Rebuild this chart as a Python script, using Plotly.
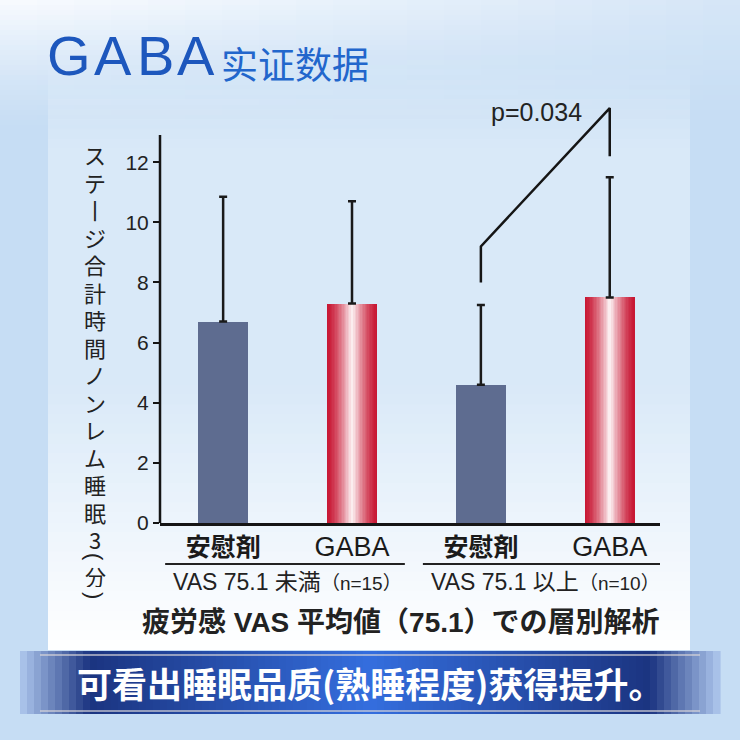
import plotly.graph_objects as go

# ---------------- data ----------------
categories = ["安慰剤", "GABA", "安慰剤", "GABA"]
bar_values = [6.7, 7.3, 4.6, 7.5]
bar_errors = [4.15, 3.4, 2.65, 4.0]
is_gaba = [False, True, False, True]
group_labels = ["VAS 75.1 未満", "VAS 75.1 以上"]
group_n = ["（n=15）", "（n=10）"]
group_members = [[0, 1], [2, 3]]
y_ticks = [0, 2, 4, 6, 8, 10, 12]
sig_x = [2, 2, 3, 3]
sig_y = [8.0, 9.2, 13.8, 12.2]
p_text = "p=0.034"
y_title = "ステ丨ジ合計時間ノンレム睡眠3"
y_unit = ["(", "分", ")"]
subtitle = "疲労感 VAS 平均値（75.1）での層別解析"
title_en = "GABA"
title_cn = "实证数据"
banner = "可看出睡眠品质(熟睡程度)获得提升。"

W, H = 740, 740
L, R, T, B = 160, 80, 87, 217
PW, PH = W - L - R, H - T - B
XR = [-0.49, 3.39]
YR = [0, 14.5]


def px_x(px):
    return (px - L) / PW


def px_y(py):
    return (H - B - py) / PH


def mix(c1, c2, t):
    t = max(0.0, min(1.0, t))
    return "rgb(%d,%d,%d)" % tuple(round(a + (b - a) * t) for a, b in zip(c1, c2))


fig = go.Figure()
shapes = []


def rect(x0, x1, y0, y1, color):
    shapes.append(dict(type="rect", xref="paper", yref="paper", layer="below",
                       x0=px_x(x0), x1=px_x(x1), y0=px_y(y1), y1=px_y(y0),
                       fillcolor=color, line=dict(width=0)))


# ---------------- background ----------------
outside = (198, 221, 244)
mid_c = (217, 233, 248)
bot_c = (255, 255, 255)

# panel with vertical gradient (blends into background at the top)
n_band = 60
for i in range(n_band):
    y0 = 60 + 590 * i / n_band
    y1 = min(650, 60 + 590 * (i + 1) / n_band + 1)
    f = ((y0 + y1) / 2 - 60) / 590
    if f < 0.15:
        c = mix(outside, mid_c, f / 0.15)
    elif f < 0.55:
        c = mix(mid_c, mid_c, 0)
    else:
        c = mix(mid_c, bot_c, (f - 0.55) / 0.45)
    rect(48, 690, y0, y1, c)

# top whitish glow (translucent white, fades downward and to the right)
for i in range(26):
    y0 = i * 5
    f = i / 26
    for j in range(20):
        x0 = j * 37
        g = j / 20
        a = (1 - f) ** 1.3 * (1 - 0.7 * g) * 0.9
        rect(x0, x0 + 37, y0, y0 + 5, "rgba(252,253,255,%.3f)" % a)

# bottom banner: smooth horizontal gradient (faded ends, navy, brighter centre)
fade = (175, 200, 238)
navy = (27, 52, 128)
bright = (52, 110, 222)
step = 7
x = 20
while x < 720:
    xc = x + step / 2
    d = min(xc - 20, 720 - xc)
    if d < 70:
        c = mix(fade, navy, d / 70)
    else:
        c = mix(navy, bright, (d - 70) / 280)
    rect(x, x + step + 0.6, 651, 714, c)
    x += step
for yy in (655, 711):
    shapes.append(dict(type="line", xref="paper", yref="paper", layer="below",
                       x0=px_x(40), x1=px_x(700), y0=px_y(yy), y1=px_y(yy),
                       line=dict(color="rgba(215,212,215,0.85)", width=1.5)))

# y axis line (shorter than the plot area)
shapes.append(dict(type="line", xref="paper", yref="y", x0=0, x1=0, y0=0, y1=12.9,
                   line=dict(color="#151515", width=2.5)))

# group underlines
for members in group_members:
    shapes.append(dict(type="line", xref="x", yref="paper",
                       x0=members[0] - 0.45, x1=members[-1] + 0.41,
                       y0=px_y(564), y1=px_y(564),
                       line=dict(color="#222222", width=2)))

# ---------------- bars ----------------
bw = 0.39
plc_x = [i for i, g in enumerate(is_gaba) if not g]
plc_v = [bar_values[i] for i in plc_x]
fig.add_trace(go.Bar(x=plc_x, y=plc_v, width=bw, marker=dict(color="#5e6c90", line=dict(width=0)),
                     hoverinfo="skip", showlegend=False))

gab_x = [i for i, g in enumerate(is_gaba) if g]
gab_v = [bar_values[i] for i in gab_x]
red = (200, 24, 52)
white = (255, 255, 255)
NL = 18
for k in range(NL):
    frac = k / NL
    w = bw * (1 - frac)
    t = frac ** 1.4
    fig.add_trace(go.Bar(x=gab_x, y=gab_v, width=w,
                         marker=dict(color=mix(red, white, t), line=dict(width=0)),
                         hoverinfo="skip", showlegend=False))

# error bars (upward only)
fig.add_trace(go.Scatter(x=list(range(len(bar_values))), y=bar_values, mode="markers",
                         marker=dict(opacity=0, size=1),
                         error_y=dict(type="data", symmetric=False, array=bar_errors,
                                      arrayminus=[0] * len(bar_errors),
                                      color="#1a1a1a", thickness=2.5, width=4),
                         hoverinfo="skip", showlegend=False))

# significance bracket
fig.add_trace(go.Scatter(x=sig_x, y=sig_y, mode="lines",
                         line=dict(color="#151515", width=2.5),
                         hoverinfo="skip", showlegend=False))

# ---------------- annotations ----------------
ann = []


def add_text(x, y, text, font, xref="paper", yref="paper", xanchor="center", angle=0,
             height=None):
    a = dict(x=x, y=y, xref=xref, yref=yref, text=text, showarrow=False,
             xanchor=xanchor, yanchor="middle", font=font, textangle=angle)
    if height is not None:
        a["height"] = height
    ann.append(a)


add_text(2.43, 13.67, p_text, dict(family="Liberation Sans", size=25, color="#222222"),
         xref="x", yref="y")

for g, (lab, n) in enumerate(zip(group_labels, group_n)):
    cx = (group_members[g][0] + group_members[g][-1]) / 2
    add_text(cx, px_y(582), lab + "<span style='font-size:19px'>" + n + "</span>",
             dict(family="Liberation Sans, Noto Sans CJK JP", size=23, color="#222222"),
             xref="x")

add_text(px_x(401), px_y(622), "<b>" + subtitle + "</b>",
         dict(family="Liberation Sans, Noto Sans CJK JP", size=28, color="#222222"))

# vertical y-axis title: one character per step down the left side
yt_font = dict(family="Noto Sans CJK JP", size=22, color="#222222")
for i, ch in enumerate(y_title):
    add_text(px_x(95), px_y(154 + i * 27.5), ch, yt_font, height=26)
# unit "（分）" written vertically: rotated parentheses around the character
unit_font = dict(family="Liberation Sans", size=22, color="#222222")
add_text(px_x(95), px_y(557), y_unit[0], unit_font, angle=90)
add_text(px_x(95), px_y(576), y_unit[1], dict(family="Noto Sans CJK JP", size=21, color="#222222"),
         height=22)
add_text(px_x(95), px_y(595), y_unit[2], unit_font, angle=90)

# title (letter-spaced)
for ch, cx in zip(title_en, [69, 113, 155, 196]):
    add_text(px_x(cx), px_y(55), ch, dict(family="Liberation Sans", size=56, color="#1d57bd"))
add_text(px_x(219), px_y(63), title_cn, dict(family="Noto Sans CJK SC", size=37, color="#2266cc"),
         xanchor="left")

# banner text
add_text(px_x(370), px_y(682), "<b>" + banner + "</b>",
         dict(family="Noto Sans CJK SC", size=35, color="#ffffff"))

ticktext = [("<b><span style='font-size:25px'>%s</span></b>" % c) if not g
            else "<span style='font-size:27px'>%s</span>" % c
            for c, g in zip(categories, is_gaba)]

fig.update_layout(
    width=W, height=H, margin=dict(l=L, r=R, t=T, b=B),
    paper_bgcolor="rgb(%d,%d,%d)" % outside, plot_bgcolor="rgba(0,0,0,0)",
    barmode="overlay", bargap=0,
    shapes=shapes, annotations=ann,
    xaxis=dict(range=XR, tickvals=list(range(len(categories))), ticktext=ticktext,
               ticks="", showline=True, linecolor="#151515", linewidth=2.5,
               showgrid=False, zeroline=False,
               tickfont=dict(family="Liberation Sans, Noto Sans CJK JP", size=25, color="#1a1a1a")),
    yaxis=dict(range=YR, tickvals=y_ticks, ticks="outside", ticklen=6, tickwidth=2,
               tickcolor="#151515", showline=False, showgrid=False, zeroline=False,
               tickfont=dict(family="Liberation Sans", size=21, color="#222222")),
)

fig.write_html("out.html", config={"displayModeBar": False},
               post_script="document.body.style.margin='0';document.body.style.overflow='hidden';")
